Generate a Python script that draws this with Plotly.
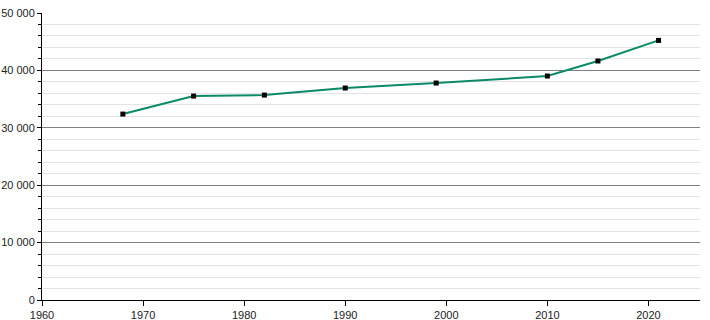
import plotly.graph_objects as go

years = [1968, 1975, 1982, 1990, 1999, 2010, 2015, 2021]
population = [32390, 35530, 35700, 36930, 37800, 39020, 41640, 45230]
x_ticks = [1960, 1970, 1980, 1990, 2000, 2010, 2020]
y_ticks = [0, 10000, 20000, 30000, 40000, 50000]

fig = go.Figure()
fig.add_trace(go.Scatter(
    x=years, y=population, mode="lines+markers",
    line=dict(color="#0b8a6a", width=2),
    marker=dict(symbol="square", size=5, color="#000000"),
    showlegend=False, cliponaxis=False,
))

fig.update_layout(
    width=710, height=320,
    margin=dict(l=42, r=10, t=13, b=20, autoexpand=False),
    paper_bgcolor="white", plot_bgcolor="white",
    separators=". ",
    font=dict(family="Liberation Sans, Arial, sans-serif", size=11, color="#222222"),
    xaxis=dict(
        range=[1960, 2025.1], tickvals=x_ticks, ticktext=[str(v) for v in x_ticks],
        showgrid=False, zeroline=False, automargin=False,
        showline=True, linecolor="#000000", linewidth=1,
        ticks="outside", ticklen=5, tickcolor="#000000",
    ),
    yaxis=dict(
        range=[0, 50000], tickvals=y_ticks, tickformat=",d", automargin=False,
        showgrid=True, gridcolor="#808080", gridwidth=1,
        zeroline=False,
        showline=True, linecolor="#000000", linewidth=1,
        ticks="outside", ticklen=4, tickcolor="#000000",
        minor=dict(dtick=2000, showgrid=True, gridcolor="#e3e3e3", gridwidth=1,
                   ticks="outside", ticklen=3, tickcolor="#000000"),
    ),
)

fig.write_html("out.html")
